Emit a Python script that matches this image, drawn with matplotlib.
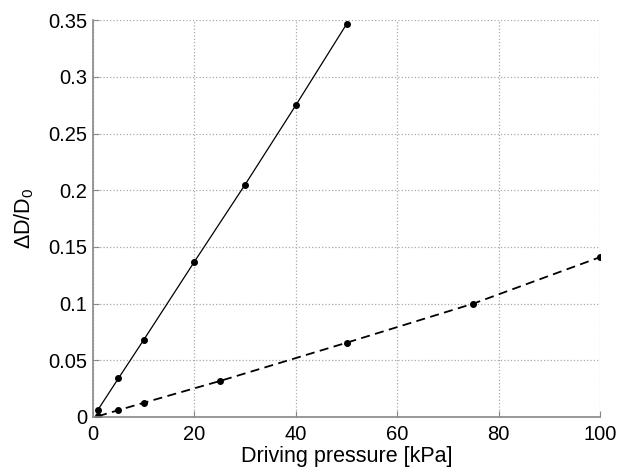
import matplotlib
matplotlib.use("Agg")
import matplotlib.pyplot as plt

plt.rcParams['font.family'] = ['Liberation Sans', 'DejaVu Sans']
plt.rcParams['mathtext.fontset'] = 'custom'
plt.rcParams['mathtext.rm'] = 'Liberation Sans'

p_solid = [1, 5, 10, 20, 30, 40, 50]
d_solid = [0.0065, 0.034, 0.068, 0.137, 0.205, 0.275, 0.3465]
p_dashed = [1, 5, 10, 25, 50, 75, 100]
d_dashed = [0.0007, 0.006, 0.0125, 0.0317, 0.0655, 0.100, 0.141]
xticks = [0, 20, 40, 60, 80, 100]
yticks = [0, 0.05, 0.1, 0.15, 0.2, 0.25, 0.3, 0.35]
yticklabels = ['0', '0.05', '0.1', '0.15', '0.2', '0.25', '0.3', '0.35']

fig = plt.figure(figsize=(6.2, 4.68), dpi=100)
ax = fig.add_axes([0.150, 0.109, 0.818, 0.848])

ax.plot(p_solid, d_solid, '-', color='black', lw=0.9, marker='o', ms=4)
ax.plot(p_dashed, d_dashed, '--', color='black', lw=1.3, marker='o', ms=4,
        dashes=(5, 3))

ax.set_xlim(0, 100)
ax.set_ylim(0, 0.35)
ax.set_xticks(xticks)
ax.set_xticklabels([str(t) for t in xticks])
ax.set_yticks(yticks)
ax.set_yticklabels(yticklabels)
ax.grid(True, linestyle=':', color='#aaaaaa', lw=0.9)
for s in ['top', 'right']:
    ax.spines[s].set_visible(False)
for s in ['left', 'bottom']:
    ax.spines[s].set_color('#888888')
    ax.spines[s].set_linewidth(1.2)
ax.tick_params(direction='in', length=4, colors='#888888', labelcolor='black',
               labelsize=14.5)
ax.tick_params(axis='x', pad=6)
ax.tick_params(axis='y', pad=4)
ax.set_xlabel('Driving pressure [kPa]', fontsize=15.5, labelpad=1)
ax.set_ylabel('ΔD/D$_\\mathrm{0}$', fontsize=15.5, labelpad=9)

fig.savefig('out.png', dpi=100)
